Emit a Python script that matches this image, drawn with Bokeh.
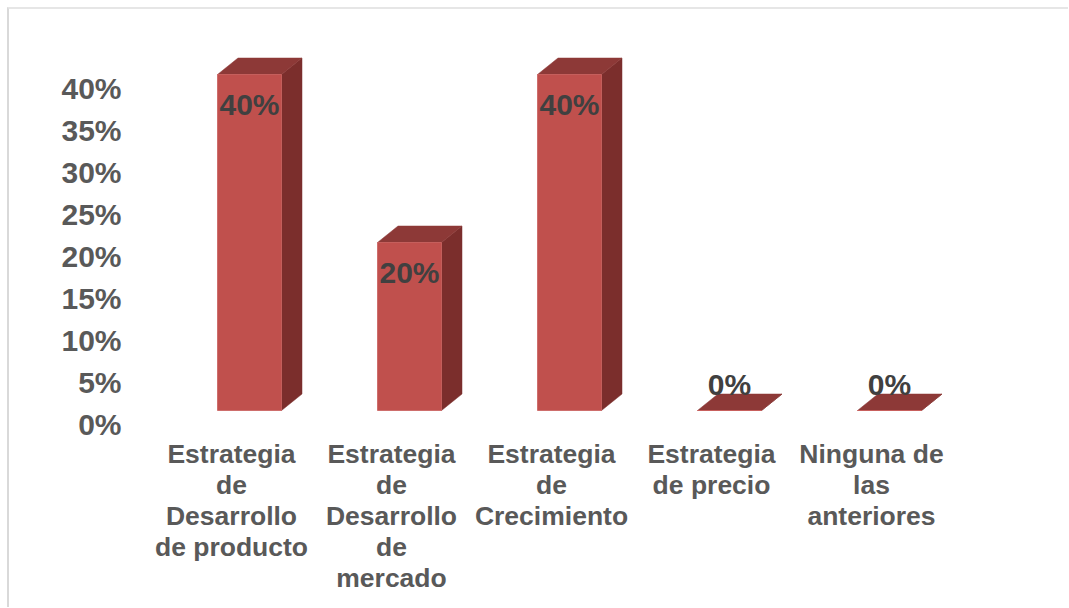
from bokeh.plotting import figure
from bokeh.models import FixedTicker, NumeralTickFormatter, Range1d, ColumnDataSource
from bokeh.core.properties import value
from bokeh.embed import file_html
from bokeh.resources import INLINE

# ---- data ----
categories = [
    "Estrategia\nde\nDesarrollo\nde producto",
    "Estrategia\nde\nDesarrollo\nde\nmercado",
    "Estrategia\nde\nCrecimiento",
    "Estrategia\nde precio",
    "Ninguna de\nlas\nanteriores",
]
values = [0.40, 0.20, 0.40, 0.0, 0.0]
value_labels = ["40%", "20%", "40%", "0%", "0%"]
y_ticks = [0.0, 0.05, 0.10, 0.15, 0.20, 0.25, 0.30, 0.35, 0.40]

# ---- geometry / style ----
FONT = "Liberation Sans"
PX_Y = 840.0      # pixels per value unit
PX_X = 160.0      # pixels per category
W = 1061
H = 600
LEFT = 120
TOP = 6
ZERO_PX = 415.0   # local pixel of value 0 (tick labels)
FIRST_PX = 240.0  # local pixel of first bar's centre
half_w = 0.2
dx = 20.5 / PX_X
dy = 16.5 / PX_Y
lift = 14.0 / PX_Y

x_start = -(FIRST_PX - LEFT) / PX_X
x_end = x_start + (W - LEFT) / PX_X
y_end = (ZERO_PX - TOP) / PX_Y
y_start = -(H - ZERO_PX) / PX_Y

p = figure(width=W, height=H, output_backend="svg", toolbar_location=None,
           x_range=Range1d(x_start, x_end), y_range=Range1d(y_start, y_end),
           x_axis_location=None, min_border_left=LEFT, min_border_right=0,
           min_border_top=TOP, min_border_bottom=0)
p.margin = (7, 0, 0, 7)
p.styles = {"border-top": "2px solid #E6E6E6", "border-left": "2px solid #D9D9D9"}
p.outline_line_color = None
p.xgrid.visible = False
p.ygrid.visible = False
p.background_fill_color = "white"
p.border_fill_color = "white"

ax = p.yaxis[0]
ax.ticker = FixedTicker(ticks=y_ticks)
ax.formatter = NumeralTickFormatter(format="0%")
ax.axis_line_color = None
ax.major_tick_line_color = None
ax.minor_tick_line_color = None
ax.major_label_standoff = 2
ax.major_label_text_font = FONT
ax.major_label_text_font_style = "bold"
ax.major_label_text_font_size = "30px"
ax.major_label_text_color = "#595959"

FRONT = "#C0504D"
SIDE = "#7B2E2C"
TOPC = "#8D3937"

side_xs, side_ys, top_xs, top_ys = [], [], [], []
fl, fr, fb, ft = [], [], [], []
for i, v in enumerate(values):
    b = lift
    t = lift + v
    l = i - half_w
    r = i + half_w
    side_xs.append([r, r + dx, r + dx, r])
    side_ys.append([b, b + dy, t + dy, t])
    top_xs.append([l, l + dx, r + dx, r])
    top_ys.append([t, t + dy, t + dy, t])
    fl.append(l); fr.append(r); fb.append(b); ft.append(t)

p.patches(side_xs, side_ys, fill_color=SIDE, line_color=SIDE, line_width=0.5)
p.patches(top_xs, top_ys, fill_color=TOPC, line_color=TOPC, line_width=0.5)
p.quad(left=fl, right=fr, bottom=fb, top=ft, fill_color=FRONT, line_color="#C9605D", line_width=0.8)

# data labels
lab_src = ColumnDataSource(dict(
    x=list(range(len(values))),
    y=[lift + v for v in values],
    t=value_labels,
    off=[30 if v > 0 else -26 for v in values],
))
p.text(x="x", y="y", text="t", y_offset="off", source=lab_src,
       text_font=value(FONT), text_font_style="bold", text_font_size=value("30px"),
       text_color="#404040", text_align="center", text_baseline="middle")

# category labels
cx, cy, ct, co = [], [], [], []
for i, c in enumerate(categories):
    for k, line in enumerate(c.split("\n")):
        cx.append(i - 18.0 / PX_X)
        cy.append(0.0)
        ct.append(line)
        co.append(29 + 31 * k)
p.text(x=cx, y=cy, text=ct, y_offset=co,
       text_font=value(FONT), text_font_style="bold", text_font_size=value("26.5px"),
       text_color="#595959", text_align="center", text_baseline="middle")

open("out.html", "w").write(file_html(p, INLINE))
